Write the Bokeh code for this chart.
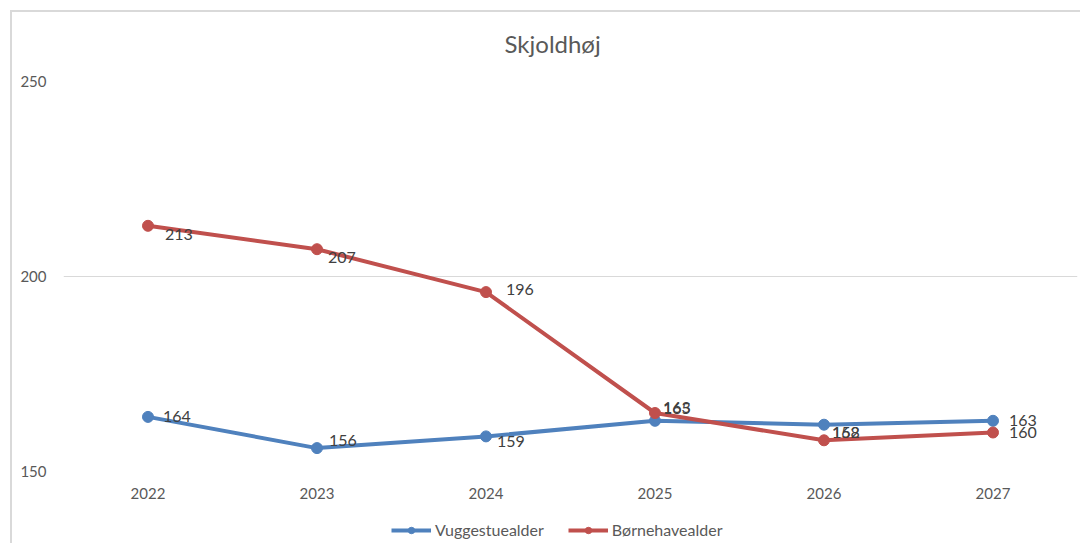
from bokeh.plotting import figure
from bokeh.layouts import column
from bokeh.models import FixedTicker, Legend, LegendItem, ColumnDataSource, Range1d
from bokeh.core.properties import value
from bokeh.embed import file_html
from bokeh.resources import INLINE

# ---- data ----
years = ["2022", "2023", "2024", "2025", "2026", "2027"]
vuggestue = [164, 156, 159, 163, 162, 163]
boernehave = [213, 207, 196, 165, 158, 160]
series_names = ["Vuggestuealder", "Børnehavealder"]
title_text = "Skjoldhøj"
y_ticks = [150, 200, 250]

# ---- style ----
BLUE = "#4F81BD"
RED = "#C0504D"
FONT = "Lato"
TXT = "#595959"
LBL = "#404040"
GRID = "#D9D9D9"

# label placement (screen px offsets, style only)
blue_dx = [15, 12, 11, 8, 8, 16]
blue_dy = [0, -8, 5, -13, 8, 0]
red_dx = [17, 11, 20, 8, 8, 16]
red_dy = [9, 8, -3, -5, -8, 0]

p = figure(
    x_range=years,
    y_range=Range1d(150, 250),
    width=1080, height=508,
    output_backend="svg", toolbar_location=None,
    min_border_left=63, min_border_right=3, min_border_top=81, min_border_bottom=37,
    title=title_text,
)

p.title.align = "left"
p.title.text_font = FONT
p.title.text_font_size = "24px"
p.title.text_font_style = "normal"
p.title.text_color = TXT
p.title.offset = 441
p.title.standoff = 48

p.outline_line_color = None
p.background_fill_color = "white"
p.border_fill_color = None

# axes
p.yaxis.ticker = FixedTicker(ticks=y_ticks)
for ax in (p.xaxis[0], p.yaxis[0]):
    ax.axis_line_color = None
    ax.major_tick_line_color = None
    ax.minor_tick_line_color = None
    ax.major_label_text_font = FONT
    ax.major_label_text_font_size = "15px"
    ax.major_label_text_color = TXT
p.yaxis.major_label_standoff = 11
p.xaxis.major_label_standoff = 10

p.xgrid.grid_line_color = None
p.ygrid.grid_line_color = GRID
p.ygrid.grid_line_width = 1

src_b = ColumnDataSource(dict(x=years, y=vuggestue, t=[str(v) for v in vuggestue], dx=blue_dx, dy=blue_dy))
src_r = ColumnDataSource(dict(x=years, y=boernehave, t=[str(v) for v in boernehave], dx=red_dx, dy=red_dy))

p.line("x", "y", source=src_b, line_color=BLUE, line_width=4)
p.scatter("x", "y", source=src_b, size=11, fill_color=BLUE, line_color=BLUE)
p.line("x", "y", source=src_r, line_color=RED, line_width=4)
p.scatter("x", "y", source=src_r, size=11, fill_color=RED, line_color=RED)

for src in (src_b, src_r):
    p.text("x", "y", text="t", source=src, x_offset="dx", y_offset="dy",
           text_font=value(FONT), text_font_size="16px", text_color=LBL,
           text_align="left", text_baseline="middle")

# ---- legend strip below the chart (series drawn out of its visible range) ----
p2 = figure(width=1080, height=35, x_range=years, y_range=Range1d(0, 1),
            output_backend="svg", toolbar_location=None,
            x_axis_location=None, y_axis_location=None,
            min_border_left=0, min_border_right=0, min_border_top=0, min_border_bottom=0)
p2.grid.visible = False
p2.outline_line_color = None
p2.background_fill_color = None
p2.border_fill_color = None

lb = p2.line("x", "y", source=src_b, line_color=BLUE, line_width=4)
sb = p2.scatter("x", "y", source=src_b, size=11, fill_color=BLUE, line_color=BLUE)
lr = p2.line("x", "y", source=src_r, line_color=RED, line_width=4)
sr = p2.scatter("x", "y", source=src_r, size=11, fill_color=RED, line_color=RED)

legend = Legend(
    items=[LegendItem(label=series_names[0], renderers=[lb, sb]),
           LegendItem(label=series_names[1], renderers=[lr, sr])],
    orientation="horizontal", location=(328, 4),
    label_text_font=FONT, label_text_font_size="16px", label_text_color=TXT,
    glyph_width=40, glyph_height=16, label_standoff=4, spacing=24,
    border_line_color=None, background_fill_alpha=0,
    padding=3, margin=0,
)
p2.add_layout(legend)

layout = column(p, p2, spacing=0, styles={
    "background-color": "white",
    "background-image": "linear-gradient(#D9D9D9, #D9D9D9), linear-gradient(#D9D9D9, #D9D9D9)",
    "background-size": "2px 100%, 100% 2px",
    "background-position": "10px 10px, 10px 10px",
    "background-repeat": "no-repeat",
})

open("out.html", "w").write(file_html(layout, INLINE))
